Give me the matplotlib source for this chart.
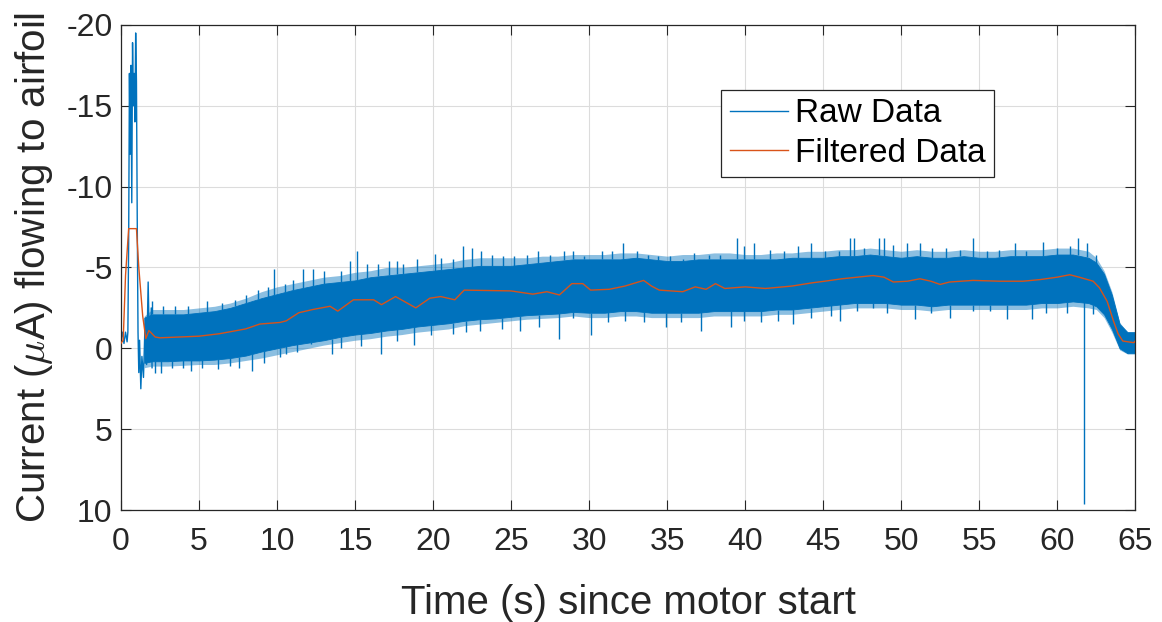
import numpy as np
import matplotlib.pyplot as plt

plt.rcParams['font.family'] = ['Liberation Sans', 'DejaVu Sans']
plt.rcParams['mathtext.fontset'] = 'cm'
plt.rcParams['axes.unicode_minus'] = False

# start-up transient, raw samples (s, uA)
start_t = [0.0, 0.1, 0.2, 0.3, 0.4, 0.45, 0.5, 0.55, 0.6, 0.65, 0.7, 0.75, 0.8, 0.85,
           0.9, 0.95, 1.0, 1.05, 1.1, 1.15, 1.2, 1.28, 1.35, 1.45, 1.55, 1.65, 1.75,
           1.85, 1.95, 2.0]
start_raw = [-0.5, -1.0, -0.3, -1.0, -0.4, -1.0, -6.5, -17.0, -12.0, -17.5, -9.0, -18.9,
             -15.0, -17.0, -14.0, -19.5, -16.5, -8.0, -1.0, 1.5, -0.5, 2.5, 0.5, 1.8,
             -1.5, 1.0, -4.1, 0.8, -2.5, 1.2]

band_t = [1.5, 2, 3, 4, 5, 6, 7, 8, 9, 10, 11, 12, 13, 14, 15, 16, 17, 18, 19, 20, 21,
          22, 23, 24, 25, 26, 27, 28, 29, 30, 31, 32, 33, 34, 35, 36, 37, 38, 39, 40, 41,
          42, 43, 44, 45, 46, 47, 48, 49, 50, 51, 52, 53, 54, 55, 56, 57, 58, 59, 60, 61,
          62, 62.5, 63, 63.5, 64, 64.5, 65]
# dense core of the raw signal
band_hi = [-1.9, -2.1, -2.1, -2.1, -2.2, -2.3, -2.5, -2.8, -3.1, -3.35, -3.6, -3.8, -4.0,
           -4.1, -4.2, -4.4, -4.5, -4.6, -4.7, -4.8, -4.9, -5.0, -5.1, -5.1, -5.1, -5.2,
           -5.3, -5.4, -5.5, -5.5, -5.5, -5.5, -5.6, -5.5, -5.4, -5.4, -5.5, -5.5, -5.5,
           -5.5, -5.5, -5.5, -5.6, -5.6, -5.6, -5.7, -5.7, -5.8, -5.7, -5.6, -5.7, -5.6,
           -5.6, -5.7, -5.6, -5.6, -5.7, -5.7, -5.7, -5.8, -5.8, -5.6, -5.3, -4.6, -3.3,
           -1.5, -1.0, -1.0]
band_lo = [0.9, 0.8, 0.8, 0.75, 0.75, 0.7, 0.6, 0.45, 0.2, 0.0, -0.2, -0.35, -0.5, -0.7,
           -0.85, -0.95, -1.1, -1.2, -1.35, -1.45, -1.55, -1.7, -1.8, -1.85, -1.95, -2.05,
           -2.1, -2.15, -2.25, -2.2, -2.2, -2.3, -2.3, -2.2, -2.2, -2.2, -2.2, -2.3, -2.3,
           -2.3, -2.3, -2.4, -2.4, -2.5, -2.6, -2.7, -2.8, -2.8, -2.8, -2.7, -2.7, -2.6,
           -2.7, -2.7, -2.7, -2.7, -2.7, -2.7, -2.8, -2.8, -2.9, -2.8, -2.6, -2.1, -1.2,
           0.0, 0.3, 0.3]
# sparser fringe around the core
fringe_hi = [-2.0, -2.4, -2.4, -2.4, -2.5, -2.6, -2.8, -3.1, -3.5, -3.8, -4.0, -4.2, -4.4,
             -4.5, -4.7, -4.8, -5.0, -5.0, -5.1, -5.2, -5.3, -5.5, -5.6, -5.6, -5.6, -5.6,
             -5.7, -5.7, -5.8, -5.8, -5.8, -5.9, -5.9, -5.8, -5.7, -5.8, -5.8, -5.9, -5.9,
             -5.8, -5.8, -5.9, -5.9, -6.0, -6.0, -6.1, -6.1, -6.2, -6.1, -6.0, -6.1, -6.0,
             -6.0, -6.1, -6.0, -6.0, -6.1, -6.1, -6.1, -6.2, -6.2, -6.0, -5.6, -4.8, -3.5,
             -1.6, -1.0, -1.0]
fringe_lo = [1.2, 1.1, 1.1, 1.05, 1.0, 1.0, 0.9, 0.75, 0.6, 0.4, 0.2, 0.0, -0.2, -0.35,
             -0.5, -0.6, -0.75, -0.85, -1.0, -1.1, -1.2, -1.4, -1.5, -1.6, -1.7, -1.8,
             -1.85, -1.9, -2.0, -1.9, -1.9, -2.0, -2.0, -1.9, -1.9, -1.9, -1.9, -2.0, -2.0,
             -2.0, -2.0, -2.1, -2.1, -2.2, -2.3, -2.4, -2.5, -2.5, -2.5, -2.4, -2.4, -2.3,
             -2.4, -2.4, -2.4, -2.4, -2.4, -2.4, -2.5, -2.5, -2.6, -2.5, -2.4, -1.9, -1.0,
             0.1, 0.35, 0.35]

# single samples sticking out above the core
peak_hi_t = [2.0, 2.7, 3.5, 4.3, 5.5, 6.5, 7.3, 8.0, 8.8, 9.4, 9.8, 10.5, 11.0, 11.7,
             12.3, 13.0, 14.1, 14.7, 15.1, 15.8, 16.5, 17.2, 17.7, 18.1, 19.0, 20.1, 20.5,
             21.3, 21.9, 22.5, 23.1, 23.8, 24.5, 25.2, 26.0, 26.7, 27.5, 28.4, 29.0, 29.7,
             30.8, 31.5, 32.2, 33.1, 33.8, 34.4, 35.2, 36.0, 36.7, 37.7, 38.4, 39.5, 39.9,
             40.6, 41.6, 42.5, 43.4, 44.2, 45.1, 46.0, 46.7, 47.0, 47.6, 48.6, 48.9, 49.5,
             50.4, 51.2, 52.0, 52.9, 53.8, 54.6, 55.5, 56.3, 57.3, 58.0, 59.1, 60.0, 60.8,
             61.3, 61.9, 62.5]
peak_hi = [-2.9, -2.6, -2.6, -2.6, -2.9, -2.8, -3.0, -3.3, -3.6, -3.8, -4.9, -4.0, -4.2,
           -4.9, -4.9, -4.8, -4.8, -5.4, -6.0, -5.2, -5.2, -5.4, -5.4, -5.2, -5.5, -5.85,
           -5.6, -5.5, -6.3, -6.2, -6.0, -5.8, -5.7, -5.7, -5.8, -6.0, -5.8, -6.0, -6.0,
           -5.7, -6.0, -6.0, -6.5, -6.0, -5.8, -5.7, -5.7, -5.5, -5.9, -5.8, -5.8, -6.8,
           -6.3, -6.5, -6.1, -6.0, -6.3, -6.5, -6.0, -6.0, -6.8, -6.8, -6.2, -6.8, -6.8,
           -6.4, -6.5, -6.5, -6.2, -6.2, -6.1, -6.8, -6.0, -6.1, -6.5, -6.0, -6.6, -6.2,
           -6.3, -6.8, -6.5, -5.8]
# single samples sticking out below the core
peak_lo_t = [2.2, 2.6, 3.3, 4.0, 4.5, 5.2, 6.2, 7.0, 7.6, 8.4, 9.2, 10.2, 10.6, 11.3, 12.2,
             13.5, 14.1, 15.4, 16.7, 17.7, 18.8, 19.9, 21.3, 22.1, 23.0, 24.4, 25.6, 26.8,
             28.1, 29.0, 30.1, 31.2, 32.3, 33.5, 34.9, 35.9, 37.2, 39.1, 39.9, 41.0, 42.1,
             43.1, 44.2, 45.5, 46.1, 47.2, 48.2, 49.1, 50.9, 51.9, 53.1, 54.6, 55.7, 56.8,
             58.4, 59.3, 60.6, 62.3]
peak_lo = [1.5, 1.5, 1.2, 1.2, 1.4, 1.2, 1.3, 1.1, 1.2, 1.4, 0.9, 0.55, 0.35, 0.25, -0.25,
           0.35, -0.05, -0.15, 0.35, -0.45, -0.2, -0.8, -0.9, -1.0, -1.1, -1.2, -1.1, -1.3,
           -0.6, -1.9, -0.8, -1.6, -1.7, -1.6, -1.3, -1.6, -1.1, -1.3, -1.7, -1.6, -1.7,
           -1.5, -1.9, -2.0, -1.7, -2.3, -2.5, -2.2, -1.8, -2.2, -1.9, -2.3, -2.3, -1.8,
           -1.8, -2.2, -2.2, -2.1]
glitch_t = 61.7
glitch = 9.6

# moving-average output
filt_t = [0.0, 0.15, 0.3, 0.5, 1.0, 1.15, 1.4, 1.6, 1.8, 2.2, 2.5, 5.0, 6.3, 8.0, 8.9, 10.2,
          10.6, 11.4, 12.3, 13.4, 13.9, 14.9, 16.2, 16.7, 17.6, 18.9, 19.8, 20.5, 21.4,
          22.0, 25.0, 26.4, 27.3, 28.1, 28.9, 29.6, 30.1, 31.3, 32.3, 33.5, 34.0, 34.5,
          36.0, 36.8, 37.5, 38.1, 38.7, 40.0, 41.3, 43.0, 44.3, 45.1, 46.2, 47.2, 48.2,
          48.9, 49.5, 50.4, 51.2, 51.9, 52.5, 53.1, 54.6, 56.3, 57.8, 58.9, 60.0, 60.8,
          61.4, 62.3, 62.7, 63.2, 63.6, 63.9, 64.2, 64.9, 65.0]
filt = [-0.3, -0.5, -4.5, -7.4, -7.4, -5.0, -2.0, -0.6, -1.1, -0.7, -0.65, -0.75, -0.9,
        -1.2, -1.5, -1.6, -1.7, -2.2, -2.4, -2.6, -2.3, -3.0, -3.0, -2.7, -3.2, -2.5, -3.1,
        -3.2, -3.0, -3.6, -3.55, -3.35, -3.5, -3.3, -4.0, -4.0, -3.6, -3.65, -3.85, -4.2,
        -3.85, -3.6, -3.5, -3.8, -3.65, -4.0, -3.7, -3.8, -3.7, -3.85, -4.05, -4.15, -4.3,
        -4.4, -4.5, -4.4, -4.1, -4.15, -4.3, -4.15, -3.95, -4.1, -4.2, -4.15, -4.15, -4.25,
        -4.4, -4.55, -4.4, -4.15, -3.75, -2.9, -1.7, -0.9, -0.45, -0.35, -0.45]

blue = '#0072BD'
orange = '#D95319'
txt = '#262626'

fig = plt.figure(figsize=(11.62, 6.22), dpi=100)
ax = fig.add_axes([0.104, 0.18, 0.873, 0.78])

ax.fill_between(band_t, fringe_lo, fringe_hi, color=blue, alpha=0.45, lw=0, zorder=2)
ax.fill_between(band_t, band_lo, band_hi, color=blue, lw=0.6, zorder=2)
ax.vlines(peak_hi_t, np.interp(peak_hi_t, band_t, band_hi), peak_hi, color=blue, lw=1.0, zorder=2)
ax.vlines(peak_lo_t, np.interp(peak_lo_t, band_t, band_lo), peak_lo, color=blue, lw=1.0, zorder=2)
ax.vlines([glitch_t], np.interp([glitch_t], filt_t, filt), [glitch], color=blue, lw=1.0, zorder=2)
ax.plot(start_t, start_raw, color=blue, lw=1.0, label='Raw Data', zorder=2)
ax.plot(filt_t, filt, color=orange, lw=1.0, label='Filtered Data', zorder=3)

ax.set_xlim(0, 65)
ax.set_ylim(10, -20)
ax.set_xticks(np.arange(0, 66, 5))
ax.set_yticks(np.arange(-20, 11, 5))
ax.grid(True, color='#dcdcdc', lw=0.8)
ax.set_axisbelow(True)
ax.tick_params(direction='in', length=7, width=0.8, colors=txt, labelsize=23,
               top=True, right=True)
ax.tick_params(axis='x', pad=12)
ax.tick_params(axis='y', pad=6)
for s in ax.spines.values():
    s.set_color(txt)
    s.set_linewidth(0.9)

ax.set_xlabel('Time (s) since motor start', fontsize=29, color=txt, labelpad=20)
ax.set_ylabel(r'Current ($\mu$A) flowing to airfoil', fontsize=29, color=txt, labelpad=8)

leg = ax.legend(loc='upper left', bbox_to_anchor=(0.592, 0.866), fontsize=24,
                fancybox=False, framealpha=1, edgecolor=txt, handlelength=1.75,
                borderpad=0.25, labelspacing=0.25, handletextpad=0.2, borderaxespad=0)
leg.get_frame().set_linewidth(0.9)
for t in leg.get_texts():
    t.set_color('black')

fig.savefig('out.png', dpi=100)
